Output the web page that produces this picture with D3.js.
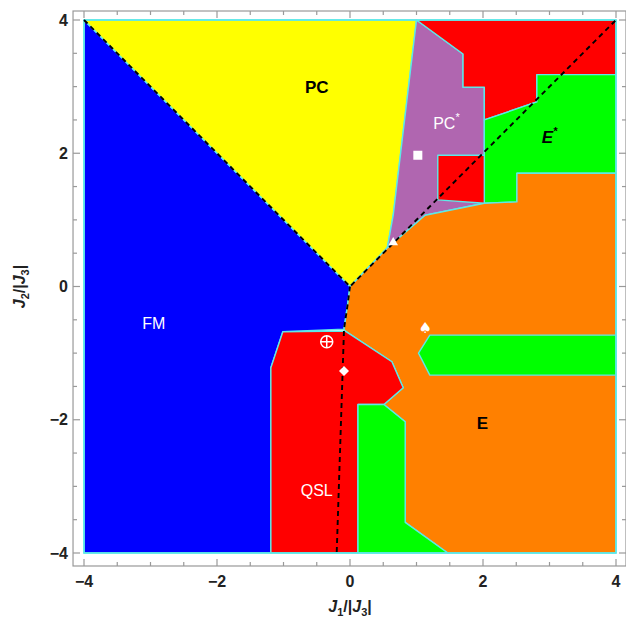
<!DOCTYPE html>
<html><head><meta charset="utf-8">
<script src="https://cdn.jsdelivr.net/npm/d3@7"></script>
<style>body{margin:0;background:#fff}svg{display:block}</style>
</head><body>
<svg id="c" width="626" height="633"></svg>
<script>
// ---- data ----
const xTicks = [-4, -2, 0, 2, 4];
const yTicks = [-4, -2, 0, 2, 4];
const minorStep = 0.5;

const phaseNames = ["FM", "PC", "PCstar", "RedTop", "EstarGreen", "E", "RedSquare", "GreenBand", "QSL", "GreenBottom"];
const phaseFill = ["#0000ff", "#ffff00", "#b066b0", "#ff0000", "#00ff00", "#ff8000", "#ff0000", "#00ff00", "#ff0000", "#00ff00"];
const FM = [[-4,4],[0,0],[-0.04,-0.3],[-0.09,-0.64],[-1.01,-0.68],[-1.19,-1.22],[-1.19,-4],[-4,-4]];
const PC = [[-4,4],[1.0,4],[0.65,1.07],[0.56,0.58],[0,0]];
const PCstar = [[1.0,4],[1.70,3.49],[1.70,2.99],[2.02,2.99],[2.02,1.25],[1.13,1.07],[0.56,0.58],[0.65,1.07]];
const RedTop = [[1.0,4],[4,4],[4,3.18],[2.81,3.18],[2.81,2.77],[2.02,2.5],[2.02,2.99],[1.70,2.99],[1.70,3.49]];
const EstarGreen = [[2.02,2.5],[2.81,2.77],[2.81,3.18],[4,3.18],[4,1.70],[2.51,1.70],[2.51,1.27],[2.02,1.25]];
const E = [[0,0],[0.56,0.58],[1.13,1.07],[2.02,1.25],[2.51,1.27],[2.51,1.70],[4,1.70],[4,-4],[1.47,-4],[0.83,-3.54],[0.83,-2.03],[0.51,-1.77],[0.80,-1.52],[0.63,-1.13],[-0.07,-0.67],[-0.09,-0.64],[-0.04,-0.3]];
const RedSquare = [[1.32,1.97],[2.02,1.97],[2.02,1.25],[1.32,1.30]];
const GreenBand = [[1.03,-1.0],[1.2,-0.73],[4,-0.73],[4,-1.33],[1.2,-1.33]];
const QSL = [[-1.01,-0.68],[-0.07,-0.67],[0.63,-1.13],[0.80,-1.52],[0.51,-1.77],[0.12,-1.77],[0.12,-4],[-1.19,-4],[-1.19,-1.22]];
const GreenBottom = [[0.12,-1.77],[0.51,-1.77],[0.83,-2.03],[0.83,-3.54],[1.47,-4],[0.12,-4]];
const polygons = [FM, PC, PCstar, RedTop, EstarGreen, E, RedSquare, GreenBand, QSL, GreenBottom];

const dashedLines = [
  [[-4,4],[0,0],[4,4]],
  [[0,0],[-0.04,-0.3],[-0.09,-0.64],[-0.2,-4]]
];

const markers = [
  {type:"square", x:1.02, y:1.97},
  {type:"triangle", x:0.65, y:0.66},
  {type:"oplus", x:-0.35, y:-0.83},
  {type:"diamond", x:-0.09, y:-1.27},
  {type:"spade", x:1.13, y:-0.63}
];

const labels = [
  {text:"PC", x:-0.5, y:3.0, color:"#000", bold:true, italic:false, sup:"", size:17},
  {text:"PC", x:1.45, y:2.45, color:"#fff", bold:false, italic:false, sup:"*", size:16},
  {text:"E", x:3.0, y:2.25, color:"#000", bold:true, italic:true, sup:"*", size:17},
  {text:"FM", x:-2.95, y:-0.55, color:"#fff", bold:false, italic:false, sup:"", size:16},
  {text:"QSL", x:-0.5, y:-3.05, color:"#fff", bold:false, italic:false, sup:"", size:16},
  {text:"E", x:1.99, y:-2.05, color:"#000", bold:true, italic:false, sup:"", size:17}
];

// ---- layout ----
const svg = d3.select("#c");
const x = d3.scaleLinear().domain([-4, 4]).range([84, 616]);
const y = d3.scaleLinear().domain([-4, 4]).range([553, 20]);
const frame = {x0: x(-4.165), x1: x(4.15), y0: y(4.135), y1: y(-4.195)};
const font = "'Liberation Sans', Arial, sans-serif";
const cyan = "#5ee8e8";

const line = d3.line().x(d => x(d[0])).y(d => y(d[1]));

// polygons
svg.append("g").selectAll("path").data(polygons).join("path")
  .attr("d", d => line(d) + "Z")
  .attr("fill", (d,i) => phaseFill[i])
  .attr("stroke", cyan).attr("stroke-width", 1.4).attr("stroke-linejoin", "round");

// outer cyan border of plot range
svg.append("rect").attr("x", x(-4)).attr("y", y(4)).attr("width", x(4)-x(-4)).attr("height", y(-4)-y(4))
  .attr("fill", "none").attr("stroke", cyan).attr("stroke-width", 1.6);

// dashed lines
svg.append("g").selectAll("path").data(dashedLines).join("path")
  .attr("d", line).attr("fill", "none").attr("stroke", "#000")
  .attr("stroke-width", 1.9).attr("stroke-dasharray", "5,4");

// markers
const mg = svg.append("g");
markers.forEach(m => {
  const cx = x(m.x), cy = y(m.y);
  if (m.type === "square") {
    mg.append("rect").attr("x", cx-4.5).attr("y", cy-4.5).attr("width", 9).attr("height", 9).attr("fill", "#fff");
  } else if (m.type === "triangle") {
    mg.append("path").attr("d", d3.symbol(d3.symbolTriangle, 40)()).attr("transform", `translate(${cx},${cy})`).attr("fill", "#fff");
  } else if (m.type === "diamond") {
    mg.append("path").attr("d", `M${cx},${cy-5}L${cx+5},${cy}L${cx},${cy+5}L${cx-5},${cy}Z`).attr("fill", "#fff");
  } else if (m.type === "oplus") {
    mg.append("circle").attr("cx", cx).attr("cy", cy).attr("r", 6).attr("fill", "none").attr("stroke", "#fff").attr("stroke-width", 1.5);
    mg.append("path").attr("d", `M${cx-6},${cy}H${cx+6}M${cx},${cy-6}V${cy+6}`).attr("stroke", "#fff").attr("stroke-width", 1.5);
  } else if (m.type === "spade") {
    mg.append("text").attr("x", cx).attr("y", cy+5).attr("text-anchor", "middle")
      .attr("font-family", "'DejaVu Sans', sans-serif").attr("font-size", 15).attr("fill", "#fff").text("\u2660");
  }
});

// labels
labels.forEach(l => {
  const t = svg.append("text").attr("x", x(l.x)).attr("y", y(l.y)).attr("text-anchor", "middle")
    .attr("dominant-baseline", "central")
    .attr("font-family", font).attr("font-size", l.size).attr("fill", l.color)
    .attr("font-weight", l.bold ? "bold" : "normal").attr("font-style", l.italic ? "italic" : "normal");
  t.append("tspan").text(l.text);
  if (l.sup) t.append("tspan").attr("dy", -6).attr("font-size", 11).text(l.sup);
});

// frame
const fg = svg.append("g").attr("stroke", "#999").attr("stroke-width", 1.2).attr("fill", "none");
fg.append("rect").attr("x", frame.x0).attr("y", frame.y0).attr("width", frame.x1-frame.x0).attr("height", frame.y1-frame.y0);
const allTicks = d3.range(-4, 4.001, minorStep);
allTicks.forEach(v => {
  const major = xTicks.includes(v);
  const L = major ? 7 : 4;
  fg.append("line").attr("x1", x(v)).attr("x2", x(v)).attr("y1", frame.y1).attr("y2", frame.y1 - L);
  fg.append("line").attr("x1", x(v)).attr("x2", x(v)).attr("y1", frame.y0).attr("y2", frame.y0 + L);
  fg.append("line").attr("y1", y(v)).attr("y2", y(v)).attr("x1", frame.x0).attr("x2", frame.x0 + L);
  fg.append("line").attr("y1", y(v)).attr("y2", y(v)).attr("x1", frame.x1).attr("x2", frame.x1 - L);
});

const fmt = v => v < 0 ? "\u2212" + Math.abs(v) : String(v);
svg.append("g").selectAll("text").data(xTicks).join("text")
  .attr("x", d => x(d)).attr("y", frame.y1 + 21).attr("text-anchor", "middle")
  .attr("font-family", font).attr("font-size", 16).attr("font-weight", "bold").attr("fill", "#222")
  .text(fmt);
svg.append("g").selectAll("text").data(yTicks).join("text")
  .attr("x", frame.x0 - 5).attr("y", d => y(d)).attr("text-anchor", "end").attr("dominant-baseline", "central")
  .attr("font-family", font).attr("font-size", 16).attr("font-weight", "bold").attr("fill", "#222")
  .text(fmt);

// axis titles
function axisTitle(g, sub1, sub2) {
  g.append("tspan").attr("font-style", "italic").text("J");
  g.append("tspan").attr("font-size", 11).attr("dy", 4).text(sub1);
  g.append("tspan").attr("dy", -4).text("/|");
  g.append("tspan").attr("font-style", "italic").text("J");
  g.append("tspan").attr("font-size", 11).attr("dy", 4).text(sub2);
  g.append("tspan").attr("dy", -4).text("|");
}
const xt = svg.append("text").attr("x", x(0)).attr("y", 612).attr("text-anchor", "middle")
  .attr("font-family", font).attr("font-size", 16).attr("font-weight", "bold").attr("fill", "#222");
axisTitle(xt, "1", "3");
const yt = svg.append("text").attr("transform", `translate(25,${y(0)}) rotate(-90)`).attr("text-anchor", "middle")
  .attr("font-family", font).attr("font-size", 16).attr("font-weight", "bold").attr("fill", "#222");
axisTitle(yt, "2", "3");
</script>
</body></html>
